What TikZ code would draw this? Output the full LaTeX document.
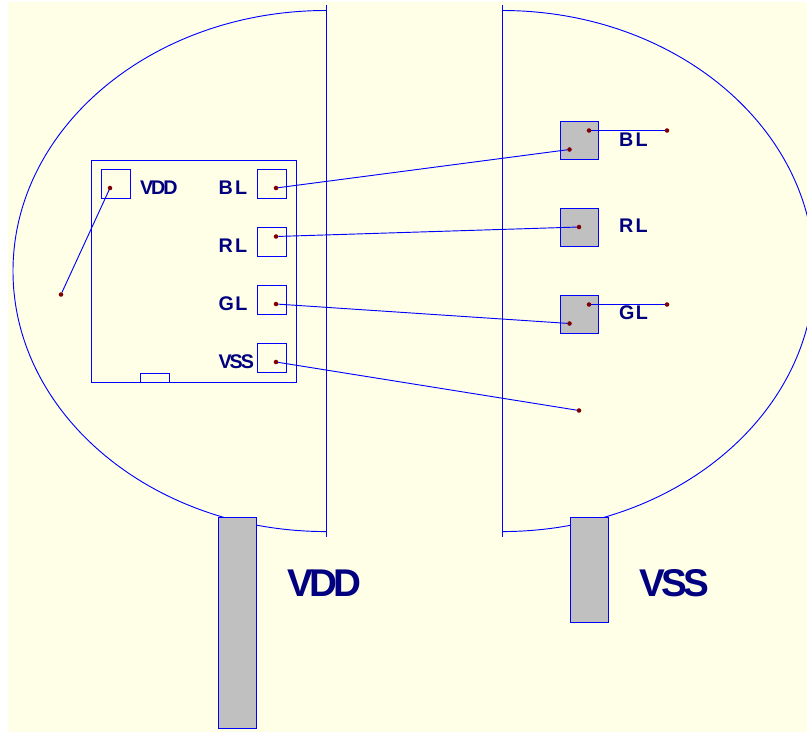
\documentclass[tikz,border=0pt]{standalone}
\usepackage{fontspec}
\setmainfont{Liberation Sans}
\definecolor{paper}{HTML}{FFFFE8}
\definecolor{wire}{HTML}{0000FF}
\definecolor{ink}{HTML}{000080}
\definecolor{padgray}{HTML}{C0C0C0}
\definecolor{dotred}{HTML}{800000}
\newcommand{\smalltxt}[2]{\addfontfeature{LetterSpace=#1}#2}
\tikzset{
  x=.75pt,y=-.75pt,
  wireline/.style={draw=wire,line width=.7pt},
  box/.style={wireline,rectangle,inner sep=0pt,outer sep=0pt,minimum width=#1},
  pinbox/.style={box=21.75pt,minimum height=21.75pt},
  padbox/.style={box=28.8pt,minimum height=28.5pt,fill=padgray},
  barbox/.style={box=28.5pt,fill=padgray},
  junction/.style={circle,fill=dotred,inner sep=0pt,outer sep=0pt,minimum size=3.4pt},
  lab/.style={text=ink,anchor=base west,inner sep=0pt,outer sep=0pt,font=\fontsize{14.8pt}{16pt}\bfseries},
  biglab/.style={text=ink,anchor=base west,inner sep=0pt,outer sep=0pt,font=\fontsize{29pt}{32pt}\bfseries}
}
\begin{document}
\begin{tikzpicture}
\useasboundingbox (0,0) rectangle (807,732);
\fill[paper] (8,2) rectangle (807,732);
% half discs
\draw[wireline] (326,10.5) arc[start angle=90,end angle=270,x radius=234.75pt,y radius=195.4pt];
\draw[wireline] (502,10.5) arc[start angle=90,end angle=-90,x radius=234.2pt,y radius=195.4pt];
\coordinate (ltop) at (326,5);
\coordinate (lbot) at (326,537);
\coordinate (rtop) at (502,5);
\coordinate (rbot) at (502,537);
\draw[wireline] (ltop) -- (lbot);
\draw[wireline] (rtop) -- (rbot);
% chip
\node[box=153.75pt,minimum height=166.5pt] (chip) at (193.5,271) {};
\node[box=21.75pt,minimum height=6.75pt] (notch) at (154.5,377.5) {};
\node[pinbox] (pvdd) at (115.5,183.5) {};
\node[pinbox] (pbl) at (271.5,183.5) {};
\node[pinbox] (prl) at (271.5,241.5) {};
\node[pinbox] (pgl) at (271.5,299.5) {};
\node[pinbox] (pvss) at (271.5,357.5) {};
% right pads
\node[padbox] (sbl) at (579.3,140) {};
\node[padbox] (srl) at (579.3,227) {};
\node[padbox] (sgl) at (579.3,314) {};
% bars
\node[barbox,minimum height=158.6pt] (barvdd) at (237,622.75) {};
\node[barbox,minimum height=78.75pt] (barvss) at (589,569.5) {};
% junctions
\node[junction] (d1) at (110,188) {};
\node[junction] (d2) at (61,294.5) {};
\node[junction] (d3) at (276,188) {};
\node[junction] (d4) at (276,236.5) {};
\node[junction] (d5) at (276,304) {};
\node[junction] (d6) at (276,362) {};
\node[junction] (e1) at (569.5,149.5) {};
\node[junction] (e2) at (589,130.5) {};
\node[junction] (e3) at (667,130.5) {};
\node[junction] (e4) at (579,227) {};
\node[junction] (e5) at (589,304.5) {};
\node[junction] (e6) at (667,304.5) {};
\node[junction] (e7) at (569.5,323.5) {};
\node[junction] (e8) at (579,410.5) {};
% connectors
\draw[wireline] (d1) -- (d2);
\draw[wireline] (d3) -- (e1);
\draw[wireline] (d4) -- (e4);
\draw[wireline] (d5) -- (e7);
\draw[wireline] (d6) -- (e8);
\draw[wireline] (e2) -- (e3);
\draw[wireline] (e5) -- (e6);
% labels
\node[lab] (tvdd) at (140,194) {\smalltxt{-10}{VDD}};
\node[lab] (tbl) at (218.5,194) {\smalltxt{12}{BL}};
\node[lab] (trl) at (218.5,252) {\smalltxt{12}{RL}};
\node[lab] (tgl) at (218.5,310) {\smalltxt{8}{GL}};
\node[lab] (tvss) at (218.5,368) {\smalltxt{-10}{VSS}};
\node[lab] (ubl) at (619,146) {\smalltxt{12}{BL}};
\node[lab] (url) at (619,232.5) {\smalltxt{12}{RL}};
\node[lab] (ugl) at (619,319) {\smalltxt{8}{GL}};
\node[biglab] (bigvdd) at (287.5,596) {\smalltxt{-10}{VDD}};
\node[biglab] (bigvss) at (639.5,596) {\smalltxt{-10}{VSS}};
\end{tikzpicture}
\end{document}
